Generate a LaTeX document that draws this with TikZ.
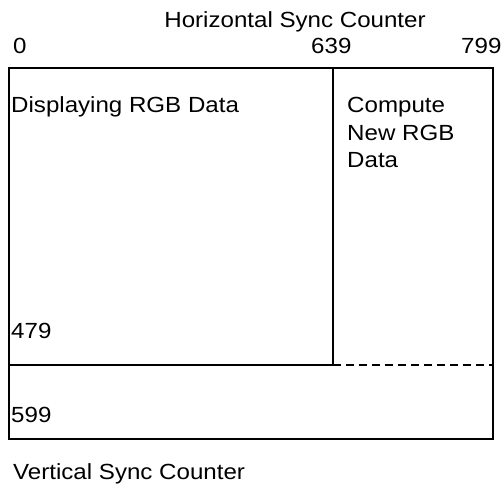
\documentclass[tikz,border=0pt]{standalone}
\usepackage{fontspec}
\usepackage{graphicx}
\setmainfont{Liberation Sans}
\newcommand\hstretch[1]{\scalebox{1.1}[1]{#1}}
\begin{document}
\begin{tikzpicture}[x=1bp,y=-1bp,
  lbl/.style={inner sep=0pt, anchor=base west, font=\fontsize{22}{27}\selectfont},
  frame/.style={line width=1.6bp, line cap=rect},
  split/.style={line width=1.6bp, dash pattern=on 8bp off 5bp}]
\useasboundingbox (0,0) rectangle (503,487);
\coordinate (tl) at (9,68);
\coordinate (br) at (493,439);
\coordinate (mt) at (333,68);
\coordinate (mm) at (333,365);
\coordinate (lm) at (9,365);
\coordinate (rm) at (493,365);
\draw[frame] (tl) rectangle (br);
\draw[frame] (mt) -- (mm) -- (lm);
\draw[split] (mm) -- (rm);
\node[lbl, anchor=base] (title) at (295,28) {\hstretch{Horizontal Sync Counter}};
\node[lbl] (h0) at (13,54) {\hstretch{0}};
\node[lbl] (h639) at (311,54) {\hstretch{639}};
\node[lbl] (h799) at (461,54) {\hstretch{799}};
\node[lbl] (disp) at (11,113) {\hstretch{Displaying RGB Data}};
\node[lbl] (comp1) at (347,113) {\hstretch{Compute}};
\node[lbl] (comp2) at (347,141) {\hstretch{New RGB}};
\node[lbl] (comp3) at (347,168) {\hstretch{Data}};
\node[lbl] (v479) at (11,338) {\hstretch{479}};
\node[lbl] (v599) at (11,422) {\hstretch{599}};
\node[lbl] (vert) at (13,479) {\hstretch{Vertical Sync Counter}};
\end{tikzpicture}
\end{document}
